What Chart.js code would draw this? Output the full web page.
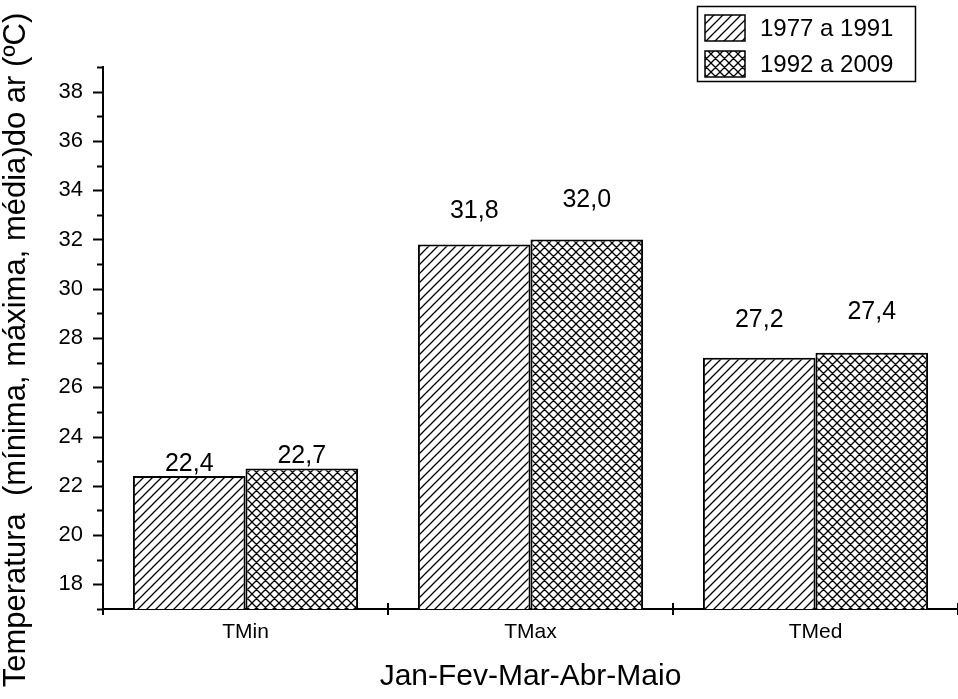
<!DOCTYPE html>
<html>
<head>
<meta charset="utf-8">
<title>Temperatura do ar</title>
<script src="https://cdn.jsdelivr.net/npm/chart.js@4.4.1/dist/chart.umd.min.js"></script>
<style>
  html, body { margin: 0; padding: 0; background: #fff; }
  canvas { display: block; }
</style>
</head>
<body>
<canvas id="grafico" width="958" height="699"></canvas>
<script>
// datos
const categorias = ["TMin", "TMax", "TMed"];
const periodos = ["1977 a 1991", "1992 a 2009"];
const serie1977 = [22.4, 31.8, 27.2];
const serie1992 = [22.7, 32.0, 27.4];
const tituloX = "Jan-Fev-Mar-Abr-Maio";
const tituloY = "Temperatura  (mínima, máxima, média)do ar (ºC)";

const FUENTE = "'Liberation Sans', Arial, sans-serif";

// patron de rayas (una direccion o cruzado)
function crearPatron(tam, cruzado, grosor) {
  const c = document.createElement("canvas");
  c.width = tam;
  c.height = tam;
  const x = c.getContext("2d");
  x.fillStyle = "#fff";
  x.fillRect(0, 0, tam, tam);
  x.strokeStyle = "#000";
  x.lineWidth = grosor;
  x.beginPath();
  x.moveTo(0, tam); x.lineTo(tam, 0);
  x.moveTo(-2, 2); x.lineTo(2, -2);
  x.moveTo(tam - 2, tam + 2); x.lineTo(tam + 2, tam - 2);
  if (cruzado) {
    x.moveTo(0, 0); x.lineTo(tam, tam);
    x.moveTo(-2, tam - 2); x.lineTo(2, tam + 2);
    x.moveTo(tam - 2, -2); x.lineTo(tam + 2, 2);
  }
  x.stroke();
  return x.createPattern(c, "repeat");
}

const rayado = crearPatron(9, false, 1.3);
const cruzado = crearPatron(9, true, 1.3);

// marcas de los ejes, etiquetas de valores, titulo y y leyenda
const pluginExtras = {
  id: "extras",
  afterDraw(chart, args, opts) {
    const ctx = chart.ctx;
    const xs = chart.scales.x;
    const ys = chart.scales.y;
    const area = chart.chartArea;
    ctx.save();
    ctx.strokeStyle = "#000";
    ctx.lineWidth = 2;

    // ticks del eje y (mayores en pares, menores en impares)
    for (let v = ys.min; v <= ys.max; v++) {
      const py = Math.round(ys.getPixelForValue(v)) + 0.5;
      const largo = v % 2 === 0 ? 10 : 6;
      ctx.beginPath();
      ctx.moveTo(area.left - largo, py);
      ctx.lineTo(area.left, py);
      ctx.stroke();
    }

    // ticks del eje x entre categorias
    const ancho = (xs.right - xs.left) / categorias.length;
    for (let k = 0; k <= categorias.length; k++) {
      const px = Math.round(xs.left + k * ancho);
      ctx.beginPath();
      ctx.moveTo(px, area.bottom - 6);
      ctx.lineTo(px, area.bottom + 6);
      ctx.stroke();
    }

    // etiquetas de valores
    ctx.fillStyle = "#000";
    ctx.font = "25px " + FUENTE;
    ctx.textAlign = "center";
    ctx.textBaseline = "alphabetic";
    chart.data.datasets.forEach((ds, i) => {
      const meta = chart.getDatasetMeta(i);
      meta.data.forEach((barra, j) => {
        const texto = ds.data[j].toFixed(1).replace(".", ",");
        ctx.fillText(texto, barra.x, barra.y - opts.separacion[i][j]);
      });
    });

    // titulo del eje y
    ctx.save();
    ctx.translate(opts.tituloY.x, opts.tituloY.y);
    ctx.rotate(-Math.PI / 2);
    ctx.font = "31px " + FUENTE;
    ctx.textBaseline = "middle";
    ctx.fillText(tituloY, 0, 0);
    ctx.restore();

    // leyenda
    const L = opts.leyenda;
    ctx.lineWidth = 1.5;
    ctx.strokeRect(L.x + 0.5, L.y + 0.5, L.w, L.h);
    ctx.font = "24px " + FUENTE;
    ctx.textAlign = "left";
    ctx.textBaseline = "middle";
    chart.data.datasets.forEach((ds, i) => {
      const cy = L.y + L.fila * (i + 0.5) + 4;
      ctx.fillStyle = ds.backgroundColor;
      ctx.fillRect(L.x + 8, cy - 13, 40, 26);
      ctx.strokeRect(L.x + 8, cy - 13, 40, 26);
      ctx.fillStyle = "#000";
      ctx.fillText(ds.label, L.x + 63, cy + 1);
    });
    ctx.restore();
  },
};

const ctx = document.getElementById("grafico").getContext("2d");

new Chart(ctx, {
  type: "bar",
  data: {
    labels: categorias,
    datasets: [
      {
        label: periodos[0],
        data: serie1977,
        backgroundColor: rayado,
        borderColor: "#000",
        borderWidth: 2,
        categoryPercentage: 0.79,
        barPercentage: 1.0,
      },
      {
        label: periodos[1],
        data: serie1992,
        backgroundColor: cruzado,
        borderColor: "#000",
        borderWidth: 2,
        categoryPercentage: 0.79,
        barPercentage: 1.0,
      },
    ],
  },
  options: {
    responsive: false,
    animation: false,
    layout: { padding: { top: 67, right: 0, left: 0, bottom: 0 } },
    plugins: {
      legend: { display: false },
      tooltip: { enabled: false },
      extras: {
        separacion: [
          [5, 26, 31],
          [6, 32, 34],
        ],
        tituloY: { x: 16, y: 350 },
        leyenda: { x: 697, y: 6, w: 218, h: 75, fila: 36 },
      },
    },
    scales: {
      x: {
        afterFit: (s) => { s.height = 90; },
        grid: { display: false, drawTicks: false },
        border: { display: true, color: "#000", width: 2 },
        ticks: {
          color: "#000",
          padding: 11,
          font: { family: FUENTE, size: 21 },
        },
        title: {
          display: true,
          text: tituloX,
          color: "#000",
          padding: { top: 10 },
          font: { family: FUENTE, size: 30 },
        },
      },
      y: {
        min: 17,
        max: 39,
        afterFit: (s) => { s.width = 103; },
        grid: { display: false, drawTicks: false },
        border: { display: true, color: "#000", width: 2 },
        ticks: {
          stepSize: 1,
          autoSkip: false,
          color: "#000",
          padding: 20,
          font: { family: FUENTE, size: 22 },
          callback: (v) => (v % 2 === 0 ? v : ""),
        },
        title: { display: false },
      },
    },
  },
  plugins: [pluginExtras],
});
</script>
</body>
</html>
